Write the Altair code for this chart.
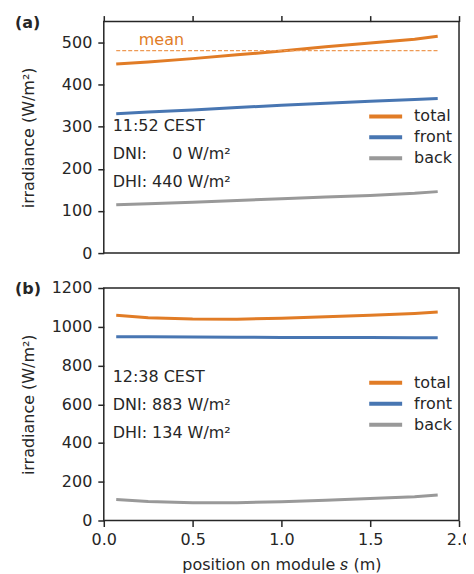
import altair as alt
import pandas as pd

# ---- data -------------------------------------------------------------
s = [0.07, 0.25, 0.5, 0.75, 1.0, 1.25, 1.5, 1.75, 1.88]

total_a = [449, 454, 462, 471, 480, 490, 499, 508, 515]
front_a = [331, 335, 340, 346, 351, 356, 361, 365, 367]
back_a = [115, 117, 121, 125, 129, 133, 137, 142, 146]
mean_a = 481

total_b = [1059, 1047, 1040, 1039, 1044, 1052, 1060, 1069, 1076]
front_b = [949, 948, 947, 946, 945, 944, 944, 943, 943]
back_b = [108, 98, 92, 92, 97, 104, 113, 123, 132]

series = ["total", "front", "back"]
colors = ["#E17C26", "#4876B2", "#999999"]

notes_a = ["11:52 CEST", "DNI: \u2007\u20070 W/m\u00b2", "DHI: 440 W/m\u00b2"]
notes_a_y = [289, 223, 157]
notes_b = ["12:38 CEST", "DNI: 883 W/m\u00b2", "DHI: 134 W/m\u00b2"]
notes_b_y = [716, 572, 428]
note_x = 0.05

y_ticks_a = [0, 100, 200, 300, 400, 500]
y_ticks_b = [0, 200, 400, 600, 800, 1000, 1200]
x_ticks = [0, 0.5, 1.0, 1.5, 2.0]

FONT = "DejaVu Sans"
FS = 16
INK = "#262626"


def long_df(tot, fr, bk):
    rows = []
    for name, vals in zip(series, [tot, fr, bk]):
        for xv, yv in zip(s, vals):
            rows.append({"s": xv, "irr": yv, "series": name})
    return pd.DataFrame(rows)


def panel(df, ymax, yticks, notes, notes_y, label, top, mean=None):
    h = 232 if top else 233
    if top:
        xaxis = alt.Axis(orient="top", labels=False, title=None, values=x_ticks,
                         grid=False, domain=False, tickSize=6, tickWidth=1.5,
                         tickColor=INK)
    else:
        xaxis = alt.Axis(orient="bottom", title="position on module \U0001D460 (m)",
                         values=x_ticks, format=".1f", grid=False, domain=False,
                         tickSize=6, tickWidth=1.5, tickColor=INK, labelPadding=5,
                         labelFlush=False, labelOverlap=False, titlePadding=9)
    yaxis = alt.Axis(title="irradiance (W/m\u00b2)", values=yticks, format="d",
                     tickCount=len(yticks),
                     grid=False, domain=False, tickSize=6, tickWidth=1.5,
                     tickColor=INK, labelPadding=6, labelOverlap=False,
                     labelFlush=False, titleX=-75, titleY=h / 2, titleAngle=-90,
                     titleBaseline="middle", titleAlign="center")
    X = alt.X("s:Q", scale=alt.Scale(domain=[0, 2], nice=False), axis=xaxis)
    Y = alt.Y("irr:Q", scale=alt.Scale(domain=[0, ymax], nice=False), axis=yaxis)

    lines = alt.Chart(df).mark_line(strokeWidth=3, clip=False).encode(
        x=X, y=Y,
        color=alt.Color("series:N", sort=series,
                        scale=alt.Scale(domain=series, range=colors),
                        legend=alt.Legend(orient="none", legendX=264, legendY=87,
                                          title=None, symbolType="stroke",
                                          symbolStrokeWidth=4, symbolSize=1089,
                                          labelFontSize=FS, labelFont=FONT,
                                          labelColor=INK, labelOffset=10,
                                          clipHeight=16, rowPadding=5)),
        detail="series:N",
    )

    ndf = pd.DataFrame({"s": [note_x] * len(notes), "irr": notes_y, "t": notes})
    texts = alt.Chart(ndf).mark_text(align="left", baseline="alphabetic",
                                     font=FONT, fontSize=FS, color=INK).encode(
        x=X, y=Y, text="t:N")

    lab = alt.Chart(pd.DataFrame({"t": [label]})).mark_text(
        align="left", baseline="alphabetic", font=FONT, fontSize=FS,
        fontWeight="bold", color=INK).encode(
        x=alt.value(-89), y=alt.value(6), text="t:N")

    layers = [lines]
    if mean is not None:
        mdf = pd.DataFrame({"s": [s[0], s[-1]], "irr": [mean, mean]})
        mline = alt.Chart(mdf).mark_line(color="#EE9A55", strokeWidth=1.2,
                                         strokeDash=[4, 2]).encode(x=X, y=Y)
        mtxt = alt.Chart(pd.DataFrame({"s": [0.197], "irr": [495], "t": ["mean"]})).mark_text(
            align="left", baseline="alphabetic", font=FONT, fontSize=FS,
            color=colors[0]).encode(x=X, y=Y, text="t:N")
        layers += [mline, mtxt]
    layers += [texts, lab]
    return alt.layer(*layers).properties(width=356, height=h)


top = panel(long_df(total_a, front_a, back_a), 550, y_ticks_a, notes_a, notes_a_y,
            "(a)", True, mean=mean_a)
bot = panel(long_df(total_b, front_b, back_b), 1200, y_ticks_b, notes_b, notes_b_y,
            "(b)", False)

chart = alt.vconcat(top, bot, spacing=35, bounds="flush").resolve_legend(
    color="independent"
).properties(
    padding={"left": 6, "top": 5, "right": -7, "bottom": 0}
).configure(
    font=FONT
).configure_view(
    stroke=INK, strokeWidth=1.5
).configure_axis(
    labelFont=FONT, labelFontSize=FS, labelColor=INK, labelOverlap=False,
    titleFont=FONT, titleFontSize=FS, titleColor=INK, titleFontWeight="normal"
)

chart.save("out.html", embed_options={"renderer": "svg", "actions": False})
